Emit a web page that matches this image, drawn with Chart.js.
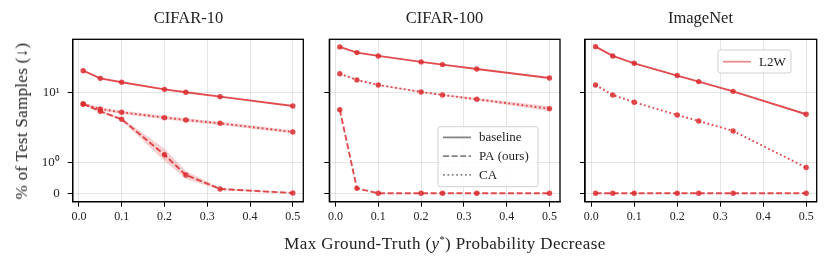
<!DOCTYPE html>
<html>
<head>
<meta charset="utf-8">
<script src="https://cdn.jsdelivr.net/npm/chart.js@4.4.1/dist/chart.umd.min.js"></script>
<style>
    body { margin: 0; background: #fff; }
    #figure { position: relative; width: 831px; height: 270px; overflow: hidden; font-family: "Liberation Serif", "DejaVu Serif", serif; color: #222; }
    canvas { position: absolute; top: 0; }
    .title { position: absolute; top: 8px; font-size: 16.5px; text-align: center; width: 231px; }
    #ylabel { position: absolute; left: 22px; top: 121px; font-size: 17px; letter-spacing: 0.3px; white-space: nowrap; transform: translate(-50%, -50%) rotate(-90deg); }
    #xlabel { position: absolute; left: 445px; top: 244px; font-size: 17px; letter-spacing: 0.4px; white-space: nowrap; transform: translate(-50%, -50%); }
    #xlabel sup { font-size: 10px; }
</style>
</head>
<body>
<div id="figure">
    <canvas id="c0" width="310" height="270" style="left:0px"></canvas>
    <canvas id="c1" width="260" height="270" style="left:310px"></canvas>
    <canvas id="c2" width="261" height="270" style="left:570px"></canvas>
    <div class="title" style="left:73px">CIFAR-10</div>
    <div class="title" style="left:329px">CIFAR-100</div>
    <div class="title" style="left:585px">ImageNet</div>
    <div id="ylabel">% of Test Samples (↓)</div>
    <div id="xlabel">Max Ground-Truth (<i>y</i><sup>*</sup>) Probability Decrease</div>
</div>
<script>
// Data
const X_VALUES = [0.01, 0.05, 0.1, 0.2, 0.25, 0.33, 0.5];
const X_TICKS = [0, 0.1, 0.2, 0.3, 0.4, 0.5];
const Y_TICKS = [0, 1, 10];
const Y_TICK_LABELS = ['0', '10⁰', '10¹'];

const cifar10Baseline = [20.3, 15.8, 13.9, 11.0, 10.0, 8.65, 6.37];
const cifar10PA = [6.8, 5.35, 4.11, 1.28, 0.59, 0.14, 0.01];
const cifar10CA = [6.8, 5.77, 5.18, 4.34, 4.02, 3.6, 2.71];
const cifar10PALow = [6.6, 5.1, 3.95, 1.04, 0.46, 0.11, 0.0];
const cifar10PAHigh = [7.0, 5.6, 4.3, 1.58, 0.72, 0.17, 0.02];
const cifar10CALow = [6.55, 5.5, 4.9, 4.1, 3.8, 3.42, 2.58];
const cifar10CAHigh = [7.05, 6.05, 5.45, 4.6, 4.25, 3.8, 2.86];

const cifar100Baseline = [44.4, 36.8, 33.0, 27.1, 24.8, 21.5, 16.0];
const cifar100PA = [5.64, 0.16, 0, 0, 0, 0, 0];
const cifar100CA = [18.4, 15.0, 12.7, 10.1, 9.14, 7.94, 5.83];
const cifar100CALow = [18.1, 14.8, 12.5, 9.9, 8.9, 7.65, 5.4];
const cifar100CAHigh = [18.7, 15.2, 12.9, 10.3, 9.4, 8.25, 6.3];

const imagenetBaseline = [44.8, 33.0, 25.9, 17.3, 14.2, 10.3, 4.85];
const imagenetPA = [0, 0, 0, 0, 0, 0, 0];
const imagenetCA = [12.7, 9.14, 7.2, 4.74, 3.89, 2.8, 0.83];

const RED = 'rgba(218, 45, 48, 0.85)';
const BAND = 'rgba(218, 45, 48, 0.22)';
const DASHED = [6, 2.6];
const DOTTED = [1.8, 2.6];

// symlog axis: linear below 1, log10 above
const LIN_SCALE = 0.443;
function symT(v) {
    if (Math.abs(v) <= 1) return v * LIN_SCALE;
    return Math.sign(v) * (LIN_SCALE + Math.log10(Math.abs(v)));
}
function symInv(t) {
    if (Math.abs(t) <= LIN_SCALE) return t / LIN_SCALE;
    return Math.sign(t) * Math.pow(10, Math.abs(t) - LIN_SCALE);
}

class SymLogScale extends Chart.LinearScale {
    buildTicks() {
        return Y_TICKS.map(v => ({ value: v }));
    }
    configure() {
        super.configure();
        this._tMin = symT(this.min);
        this._tMax = symT(this.max);
    }
    getPixelForValue(v) {
        return this.getPixelForDecimal((symT(v) - this._tMin) / (this._tMax - this._tMin));
    }
    getValueForPixel(p) {
        return symInv(this._tMin + this.getDecimalForPixel(p) * (this._tMax - this._tMin));
    }
}
SymLogScale.id = 'symlog';
SymLogScale.defaults = {};
Chart.register(SymLogScale);

function points(ys) {
    return X_VALUES.map((x, i) => ({ x: x, y: ys[i] }));
}

function lineSet(ys, dash) {
    return {
        data: points(ys),
        borderColor: RED,
        backgroundColor: RED,
        borderWidth: 1.9,
        borderDash: dash,
        pointRadius: 2.7,
        pointBorderWidth: 0,
        tension: 0,
        fill: false
    };
}

function bandSets(low, high) {
    return [
        { data: points(high), borderWidth: 0, pointRadius: 0, backgroundColor: BAND, fill: '+1', tension: 0 },
        { data: points(low), borderWidth: 0, pointRadius: 0, backgroundColor: BAND, fill: false, tension: 0 }
    ];
}

// draws the full black frame and an optional legend box
function framePlugin(legend) {
    return {
        id: 'frame',
        afterDraw(chart) {
            const ctx = chart.ctx;
            const a = chart.chartArea;
            ctx.save();
            ctx.strokeStyle = '#000';
            ctx.lineWidth = 1.3;
            ctx.strokeRect(a.left, a.top, a.right - a.left, a.bottom - a.top);
            if (legend) {
                ctx.fillStyle = 'rgba(255,255,255,0.85)';
                ctx.strokeStyle = '#d0d0d0';
                ctx.lineWidth = 1;
                ctx.beginPath();
                ctx.roundRect(legend.x, legend.y, legend.w, legend.h, 2.5);
                ctx.fill();
                ctx.stroke();
                ctx.font = '13px "Liberation Serif", serif';
                ctx.textBaseline = 'middle';
                legend.items.forEach((item, i) => {
                    const yy = legend.y + legend.rowTop + i * legend.rowGap;
                    ctx.strokeStyle = item.color;
                    ctx.lineWidth = 1.8;
                    ctx.setLineDash(item.dash);
                    ctx.beginPath();
                    ctx.moveTo(legend.x + 5, yy);
                    ctx.lineTo(legend.x + 33, yy);
                    ctx.stroke();
                    ctx.setLineDash([]);
                    ctx.fillStyle = '#222';
                    ctx.fillText(item.label, legend.x + 41, yy + 0.5);
                });
            }
            ctx.restore();
        }
    };
}

function makePanel(canvasId, datasets, yAxisWidth, padRight, showYLabels, legend) {
    new Chart(document.getElementById(canvasId), {
        type: 'line',
        data: { datasets: datasets },
        plugins: [framePlugin(legend)],
        options: {
            responsive: false,
            animation: false,
            layout: { padding: { left: 0, right: padRight, top: 39.3, bottom: 0 } },
            plugins: { legend: { display: false }, tooltip: { enabled: false } },
            scales: {
                x: {
                    type: 'linear',
                    min: -0.0145,
                    max: 0.5245,
                    afterBuildTicks: s => { s.ticks = X_TICKS.map(v => ({ value: v })); },
                    afterFit: s => { s.height = 68.3; },
                    grid: { color: 'rgba(0,0,0,0.1)', tickColor: '#000', tickLength: 5, lineWidth: 1 },
                    border: { color: '#000', width: 1.3 },
                    ticks: {
                        padding: 3,
                        color: '#222',
                        maxRotation: 0,
                        font: { family: '"Liberation Serif", serif', size: 12 },
                        callback: v => v.toFixed(1)
                    }
                },
                y: {
                    type: 'symlog',
                    min: -0.27,
                    max: 57,
                    afterFit: s => { s.width = yAxisWidth; },
                    grid: { color: 'rgba(0,0,0,0.1)', tickColor: '#000', tickLength: 5, lineWidth: 1 },
                    border: { color: '#000', width: 1.3 },
                    ticks: {
                        display: showYLabels,
                        padding: 8,
                        color: '#222',
                        font: { family: '"Liberation Serif", serif', size: 13 },
                        callback: v => Y_TICK_LABELS[Y_TICKS.indexOf(v)]
                    }
                }
            }
        }
    });
}

const GRAY = 'rgba(110,110,110,0.85)';

makePanel('c0', [
    ...bandSets(cifar10PALow, cifar10PAHigh),
    ...bandSets(cifar10CALow, cifar10CAHigh),
    lineSet(cifar10Baseline, []),
    lineSet(cifar10PA, DASHED),
    lineSet(cifar10CA, DOTTED)
], 72.7, 6.7, true, null);

makePanel('c1', [
    ...bandSets(cifar100CALow, cifar100CAHigh),
    lineSet(cifar100Baseline, []),
    lineSet(cifar100PA, DASHED),
    lineSet(cifar100CA, DOTTED)
], 19.3, 10, false, {
    x: 128, y: 126.7, w: 100, h: 60, rowTop: 10.7, rowGap: 18.7,
    items: [
        { label: 'baseline', color: GRAY, dash: [] },
        { label: 'PA (ours)', color: GRAY, dash: DASHED },
        { label: 'CA', color: GRAY, dash: DOTTED }
    ]
});

makePanel('c2', [
    lineSet(imagenetBaseline, []),
    lineSet(imagenetPA, DASHED),
    lineSet(imagenetCA, DOTTED)
], 15, 14.3, false, {
    x: 148, y: 50, w: 73, h: 23, rowTop: 11.7, rowGap: 0,
    items: [
        { label: 'L2W', color: 'rgba(218,45,48,0.55)', dash: [] }
    ]
});
</script>
</body>
</html>
